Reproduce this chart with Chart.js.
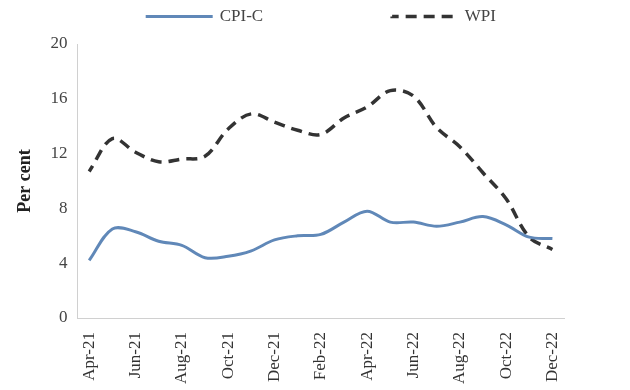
<!DOCTYPE html>
<html>
<head>
<meta charset="utf-8">
<script src="https://cdn.jsdelivr.net/npm/chart.js@4/dist/chart.umd.min.js"></script>
<style>
  body { margin: 0; background: #fff; }
  #wrap { width: 630px; height: 390px; }
</style>
</head>
<body>
<div id="wrap"><canvas id="inflChart"></canvas></div>
<script>
// Monthly, Apr-21 to Dec-22
var months = ['Apr-21', 'May-21', 'Jun-21', 'Jul-21', 'Aug-21', 'Sep-21', 'Oct-21', 'Nov-21', 'Dec-21',
  'Jan-22', 'Feb-22', 'Mar-22', 'Apr-22', 'May-22', 'Jun-22', 'Jul-22', 'Aug-22', 'Sep-22', 'Oct-22',
  'Nov-22', 'Dec-22'];
var cpiC = [4.2, 6.5, 6.3, 5.6, 5.3, 4.4, 4.5, 4.9, 5.7, 6.0, 6.1, 7.0, 7.8, 7.0, 7.0, 6.7, 7.0, 7.4, 6.8, 5.9, 5.8];
var wpi = [10.7, 13.1, 12.1, 11.4, 11.6, 11.8, 13.8, 14.9, 14.3, 13.7, 13.4, 14.6, 15.4, 16.6, 16.2, 13.9, 12.5, 10.6, 8.7, 5.9, 5.0];
var yTicks = [0, 4, 8, 12, 16, 20];

var serif = '"Liberation Serif", "DejaVu Serif", serif';
var ctx = document.getElementById('inflChart').getContext('2d');

var data = {
  labels: months,
  datasets: [{
    label: 'CPI-C',
    data: cpiC,
    borderColor: '#6088b8',
    backgroundColor: '#6088b8',
    borderWidth: 3,
    tension: 0.35,
    pointRadius: 0
  }, {
    label: 'WPI',
    data: wpi,
    borderColor: '#333333',
    backgroundColor: '#333333',
    borderWidth: 3.5,
    borderDash: [11, 7],
    borderDashOffset: 4.5, // keeps the legend's flat box dashes lined up
    tension: 0.35,
    pointRadius: 0
  }]
};

// legend sits a bit right of centre and close to the top in the original
var legendShift = {
  id: 'legendShift',
  afterLayout: function(chart) {
    chart.legend.left += 34;
    chart.legend.right += 34;
    chart.legend.top -= 9;
    chart.legend.bottom -= 9;
  }
};

var myChart = new Chart(ctx, {
  type: 'line',
  data: data,
  plugins: [legendShift],
  options: {
    responsive: true,
    maintainAspectRatio: false,
    animation: false,
    layout: { padding: { left: 11, right: 66, top: 7, bottom: 0 } },
    plugins: {
      legend: {
        position: 'top',
        labels: {
          boxWidth: 64,
          boxHeight: 0.01,
          padding: 10,
          color: '#444',
          font: { family: serif, size: 17 },
          generateLabels: function(chart) {
            var items = Chart.defaults.plugins.legend.labels.generateLabels(chart);
            items[0].text = items[0].text + '\u2003\u2003\u2003\u2003\u2003\u2003\u2003';
            return items;
          }
        }
      },
      tooltip: { enabled: false }
    },
    scales: {
      x: {
        offset: true,
        afterFit: function(scale) {
          scale.height = 72;
        },
        grid: { display: false, drawTicks: false },
        border: { color: '#d0d0d0' },
        ticks: {
          autoSkip: false,
          minRotation: 90,
          maxRotation: 90,
          padding: 14,
          color: '#333',
          font: { family: serif, size: 17 },
          callback: function(val, i) {
            return i % 2 === 0 ? months[i] : '';
          }
        }
      },
      y: {
        min: yTicks[0],
        max: yTicks[yTicks.length - 1],
        afterBuildTicks: function(axis) {
          axis.ticks = yTicks.map(function(v) { return { value: v }; });
        },
        grid: { display: false, drawTicks: false },
        border: { color: '#d0d0d0' },
        title: {
          display: true,
          text: 'Per cent',
          color: '#222',
          font: { family: serif, size: 18, weight: 'bold' },
          padding: { top: 4, bottom: 4 }
        },
        ticks: {
          padding: 10,
          color: '#444',
          font: { family: serif, size: 17 }
        }
      }
    }
  }
});
</script>
</body>
</html>
